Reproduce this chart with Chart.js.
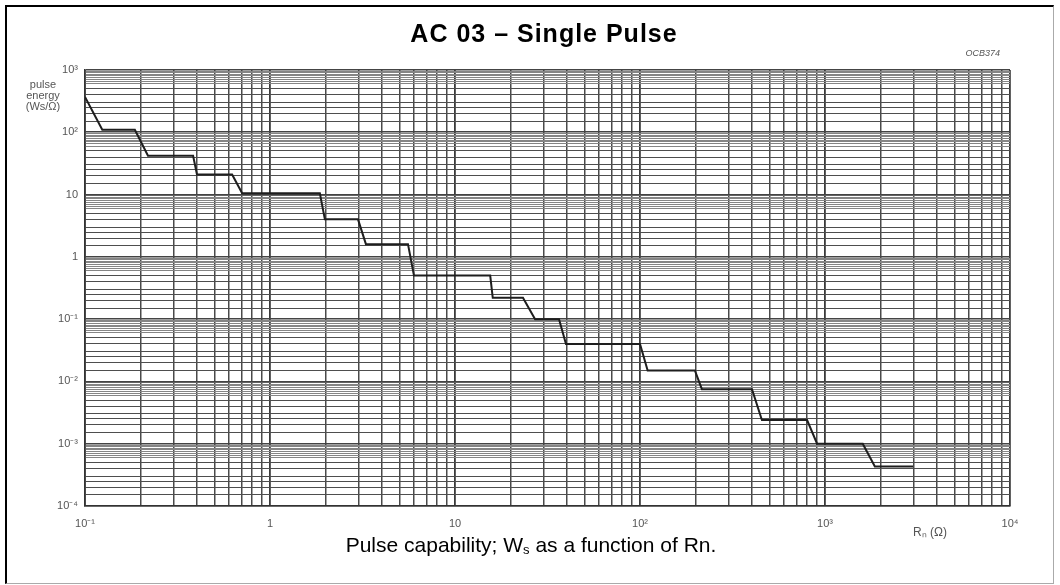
<!DOCTYPE html>
<html>
<head>
<meta charset="utf-8">
<title>AC 03 - Single Pulse</title>
<script src="https://cdn.jsdelivr.net/npm/chart.js@4.4.0/dist/chart.umd.min.js"></script>
<style>
  body { margin: 0; background: #fff; font-family: "Liberation Sans", Arial, sans-serif; }
  #wrap { position: relative; width: 1060px; height: 585px; }
  #frame { position: absolute; left: 5px; top: 5px; width: 1049px; height: 579px; box-sizing: border-box;
           border-left: 2px solid #000; border-top: 2px solid #000; border-right: 1px solid #aaa; border-bottom: 1px solid #aaa;
           pointer-events: none; }
  #title { position: absolute; left: 0; top: 19px; width: 1088px; text-align: center; font-weight: bold; font-size: 25px; letter-spacing: 1px; line-height: 28px; color: #000; }
  #caption { position: absolute; left: 0; top: 533px; width: 1062px; text-align: center; font-size: 21px; line-height: 24px; color: #000; }
  #caption sub { font-size: 13px; vertical-align: -2px; }
  canvas { position: absolute; left: 0; top: 0; }
</style>
</head>
<body>
<div id="wrap">
  <canvas id="pulseChart" width="1060" height="585"></canvas>
  <div id="title">AC 03 – Single Pulse</div>
  <div id="caption">Pulse capability; W<sub>s</sub> as a function of Rn.</div>
  <div id="frame"></div>
</div>
<script>
// Rn (Ohm) and pulse energy (Ws/Ohm) along the step curve
var rn = [0.1, 0.124, 0.186, 0.219, 0.384, 0.403, 0.624, 0.707, 1.86, 1.98, 2.99, 3.30, 5.57, 6.0, 15.5, 16.0,
          23.3, 27.1, 36.5, 39.8, 100, 110, 198, 216, 403, 456, 800, 906, 1600, 1860, 2990];
var ws = [370, 110, 110, 42, 42, 21, 21, 10.5, 10.5, 4, 4, 1.6, 1.6, 0.5, 0.5, 0.22,
          0.22, 0.1, 0.1, 0.04, 0.04, 0.015, 0.015, 0.0075, 0.0075, 0.0024, 0.0024, 0.001, 0.001, 0.00043, 0.00043];

// decades shown on each axis (exponents)
var xDecades = [-1, 0, 1, 2, 3, 4];
var yDecades = [-4, -3, -2, -1, 0, 1, 2, 3];

// grid lines inside each decade (log paper)
var xMantissas = [1, 2, 3, 4, 5, 6, 7, 8, 9];
var yMantissas = [1, 1.5, 2, 2.5, 3, 4, 5, 6, 6.5, 7, 7.5, 8, 8.5, 9, 9.5];

var sup = { '-': '⁻', '0': '⁰', '1': '¹', '2': '²', '3': '³', '4': '⁴', '5': '⁵', '6': '⁶', '7': '⁷', '8': '⁸', '9': '⁹' };

function decadeLabel(e) {
    if (e === 0) return '1';
    if (e === 1) return '10';
    return '10' + String(e).split('').map(function (c) { return sup[c]; }).join('');
}

function buildGrid(decades, mantissas) {
    var out = [];
    for (var i = 0; i < decades.length - 1; i++) {
        for (var j = 0; j < mantissas.length; j++) {
            out.push({ value: mantissas[j] * Math.pow(10, decades[i]) });
        }
    }
    out.push({ value: Math.pow(10, decades[decades.length - 1]) });
    return out;
}

function mantissa(v) {
    var e = Math.floor(Math.log10(v) + 1e-9);
    return v / Math.pow(10, e);
}

function isDecade(v) {
    var l = Math.log10(v);
    return Math.abs(l - Math.round(l)) < 1e-6;
}

function tickText(v) {
    return isDecade(v) ? decadeLabel(Math.round(Math.log10(v))) : '';
}

var points = rn.map(function (x, i) { return { x: x, y: ws[i] }; });

// extra texts drawn around the plot
var axisTexts = {
    id: 'axisTexts',
    afterDraw: function (chart) {
        var ctx = chart.ctx, a = chart.chartArea;
        ctx.save();
        ctx.fillStyle = '#555';
        ctx.font = '11px "Liberation Sans", Arial, sans-serif';
        ctx.textAlign = 'center';
        ctx.textBaseline = 'middle';
        ctx.fillText('pulse', a.left - 42, a.top + 15);
        ctx.fillText('energy', a.left - 42, a.top + 26);
        ctx.fillText('(Ws/Ω)', a.left - 42, a.top + 37);
        ctx.font = '12px "Liberation Sans", Arial, sans-serif';
        ctx.fillText('Rₙ (Ω)', a.right - 80, a.bottom + 27);
        ctx.font = 'italic 9px "Liberation Sans", Arial, sans-serif';
        ctx.textAlign = 'right';
        ctx.fillText('OCB374', a.right - 10, a.top - 17);
        ctx.restore();
    }
};

var pulseChart = new Chart(document.getElementById('pulseChart').getContext('2d'), {
    type: 'line',
    data: {
        datasets: [{
            data: points,
            borderColor: '#1e1e1e',
            borderWidth: 2,
            pointRadius: 0,
            tension: 0,
            fill: false
        }]
    },
    options: {
        responsive: false,
        animation: false,
        layout: { padding: { top: 70, right: 50, left: 0, bottom: 0 } },
        plugins: { legend: { display: false }, tooltip: { enabled: false } },
        scales: {
            x: {
                type: 'logarithmic',
                min: 0.1,
                max: 10000,
                afterBuildTicks: function (scale) { scale.ticks = buildGrid(xDecades, xMantissas); },
                afterFit: function (scale) { scale.height = 79; },
                border: { display: true, color: '#333', width: 1.5 },
                grid: {
                    drawTicks: false,
                    color: function (c) { return isDecade(c.tick.value) ? '#3a3a3a' : '#4a4a4a'; },
                    lineWidth: function (c) { return isDecade(c.tick.value) ? 1.8 : 1.5; }
                },
                ticks: {
                    autoSkip: false,
                    maxRotation: 0,
                    padding: 11,
                    color: '#555',
                    font: { size: 11, family: '"Liberation Sans", Arial, sans-serif' },
                    callback: function (v) { return tickText(v); }
                }
            },
            y: {
                type: 'logarithmic',
                min: 1e-4,
                max: 1e3,
                afterBuildTicks: function (scale) { scale.ticks = buildGrid(yDecades, yMantissas); },
                afterFit: function (scale) { scale.width = 85; },
                border: { display: true, color: '#333', width: 1.5 },
                grid: {
                    drawTicks: false,
                    color: function (c) {
                        var v = c.tick.value;
                        if (isDecade(v)) return '#444';
                        return mantissa(v) > 5.5 ? '#858585' : '#4e4e4e';
                    },
                    lineWidth: function (c) { return isDecade(c.tick.value) ? 1.6 : 1.1; }
                },
                ticks: {
                    autoSkip: false,
                    padding: 7,
                    color: '#555',
                    font: { size: 11, family: '"Liberation Sans", Arial, sans-serif' },
                    callback: function (v) { return tickText(v); }
                }
            }
        }
    },
    plugins: [axisTexts]
});
</script>
</body>
</html>
